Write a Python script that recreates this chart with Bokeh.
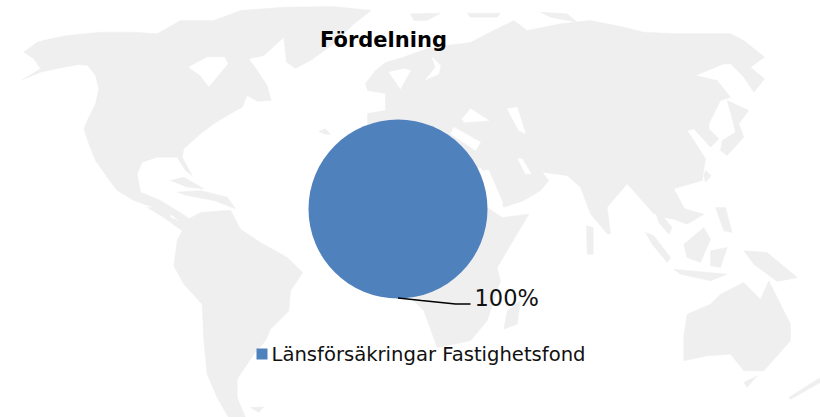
from bokeh.plotting import figure
from bokeh.embed import file_html
from bokeh.resources import INLINE
from bokeh.core.properties import value
from bokeh.models import Range1d
import math

# chart data
title_text = "Fördelning"
categories = ["Länsförsäkringar Fastighetsfond"]
shares = [100]
colors = ["#4f81bd"]
label_text = ["100%"]

MAP = "#efefef"

def tile(ox, oy, pts):
    return [(ox + x / 3, oy + y / 3) for x, y in pts]

land = [
    # North America
    tile(0, 0, [(65,238),(120,215),(190,200),(235,192),(262,195),(285,225),(295,265),(285,310),(265,350),(250,385),(265,430),(285,480),(320,530),(350,570),(400,600),(470,625),(500,632),(560,680),(580,690),(600,680),(545,640),(520,625),(480,600),(420,575),(410,520),(425,485),(470,470),(530,470),(555,510),(575,525),(545,470),(550,445),(600,400),(640,370),(680,345),(725,320),(740,285),(770,302),(812,300),(800,255),(770,210),(745,175),(790,165),(850,110),(800,55),(740,60),(640,60),(540,60),(470,100),(400,95),(300,95),(200,105),(150,115),(110,125),(70,155),(100,175),(120,205)]),
    # Arctic Canada and Greenland
    tile(0, 0, [(640,60),(720,30),(850,20),(1000,18),(1112,30),(1060,70),(1000,130),(930,180),(885,203),(858,185),(850,110),(800,60),(740,62)]),
    # Caribbean
    tile(0, 0, [(510,540),(550,530),(610,565),(560,560)]),
    tile(0, 0, [(530,575),(600,570),(680,590),(705,625),(640,600),(560,585)]),
    tile(0, 0, [(955,392),(975,385),(990,402),(970,400)]),
    # South America and Central America
    tile(0, 207, [(440,0),(510,0),(510,30),(545,45),(600,15),(690,8),(720,65),(780,105),(860,150),(907,195),(870,250),(865,310),(810,365),(795,400),(760,440),(710,515),(710,570),(735,630),(690,640),(650,570),(620,500),(610,400),(605,290),(550,230),(520,175),(530,100),(545,70),(490,30)]),
    tile(0, 207, [(750,600),(790,598),(775,615)]),
    # Iceland
    tile(0, 0, [(1150,190),(1180,180),(1195,195),(1165,205)]),
    # Eurasia
    [(400,150),(367,127),(367,113),(385,110),(385,93),(367,90),(365,83),(375,70),(385,62),(402,57),(430,47),(470,42),(487,33)] +
    tile(410, 0, [(310,60),(350,90),(450,70),(540,60),(640,80),(700,95),(800,100),(960,100),(1000,120),(1062,170),(1020,200),(1062,235),(1030,275),(1000,230),(960,190),(940,190),(855,225),(920,240),(960,290),(930,300),(895,370),(895,385),(925,415),(900,440),(850,385),(830,390),(850,420),(885,475),(875,540),(790,565),(830,640),(730,640),(650,550),(590,620),(600,700),(590,700),(540,640),(510,560),(470,525),(395,515),(415,540),(390,570),(340,600),(280,620),(240,540),(210,500),(150,500)]),
    # Japan
    tile(640, 100, [(260,0),(325,30),(295,70),(310,110),(260,165),(240,150),(245,120),(285,95),(270,35)]),
    tile(640, 100, [(195,210),(212,225),(195,245),(190,225)]),
    # Novaya Zemlya, Svalbard
    tile(410, 0, [(0,40),(90,38),(50,60),(10,60)]),
    tile(410, 0, [(170,38),(270,38),(260,50),(180,50)]),
    tile(410, 0, [(390,35),(470,40),(500,65),(420,50)]),
    # Southeast Asia
    tile(410, 207, [(730,0),(810,0),(880,20),(830,50),(790,35),(760,30),(785,60),(775,80),(745,45)]),
    tile(410, 207, [(705,75),(730,85),(780,150),(770,165),(725,110)]),
    tile(410, 207, [(790,185),(950,200),(900,220),(810,200)]),
    tile(410, 207, [(820,110),(880,60),(900,95),(870,165),(830,150)]),
    tile(410, 207, [(900,130),(950,120),(930,180),(900,175)]),
    tile(410, 207, [(1000,130),(1070,135),(1160,210),(1100,222),(1030,170)]),
    tile(410, 207, [(915,0),(945,0),(965,75),(940,70)]),
    tile(410, 207, [(528,55),(548,60),(548,140),(530,140)]),
    # Africa and Madagascar
    tile(410, 207, [(0,0),(230,0),(275,30),(355,20),(260,180),(270,220),(230,340),(180,400),(80,420),(40,310),(0,270)]),
    tile(410, 207, [(280,365),(290,310),(330,280),(320,350)]),
    # Australia, Tasmania, New Zealand
    tile(410, 207, [(820,385),(830,320),(900,290),(930,260),(1000,225),(1050,275),(1075,220),(1140,350),(1140,400),(1060,490),(1000,490),(960,440),(890,445),(820,460)]),
    tile(410, 207, [(1000,525),(1040,505),(1010,540)]),
    tile(410, 207, [(1135,570),(1230,510),(1230,525),(1140,575)]),
]
water = [
    tile(0, 0, [(565,200),(620,170),(672,170),(682,190),(625,258),(600,225)]),
    tile(350, 40, [(115,95),(160,85),(180,90),(150,145)]),
    tile(350, 40, [(225,118),(265,100),(270,75),(245,50),(255,80),(240,100)]),
    tile(410, 0, [(155,355),(180,325),(235,360),(160,365)]),
    tile(410, 0, [(290,325),(320,320),(345,400),(325,390)]),
    tile(410, 0, [(322,475),(335,475),(362,520),(345,520)]),
    tile(410, 0, [(220,510),(235,510),(278,610),(262,610)]),
    tile(410, 0, [(130,380),(210,425),(195,450),(120,400)]),
]

p = figure(width=820, height=417, output_backend="svg", toolbar_location=None,
           x_range=Range1d(0, 820), y_range=Range1d(417, 0),
           min_border=0, outline_line_color=None,
           background_fill_color="white", border_fill_color="white")
p.axis.visible = False
p.grid.visible = False

p.patches([[q[0] for q in s] for s in land], [[q[1] for q in s] for s in land],
          fill_color=MAP, line_color=MAP, line_width=0.5)
p.patches([[q[0] for q in s] for s in water], [[q[1] for q in s] for s in water],
          fill_color="white", line_color="white", line_width=0.5)

# pie drawn through the values
cx, cy, r = 397.5, 208.5, 89.5
total = sum(shares)
start = 0.0
for v, c in zip(shares, colors):
    if v >= total:
        p.circle(x=[cx], y=[cy], radius=r, fill_color=c, line_color=c, line_width=0)
    else:
        end = start + 2 * math.pi * v / total
        p.wedge(x=[cx], y=[cy], radius=r, start_angle=start, end_angle=end,
                fill_color=c, line_color=c)
        start = end

# leader line and label
p.line([397.5, 421, 455, 470], [297.5, 300, 303.5, 303.5], line_color="black", line_width=1.5)
p.text(x=[474], y=[297], text=label_text, text_font=value("DejaVu Sans"), text_font_size="22.5px",
       text_color="#111111", text_align="left", text_baseline="middle")

# title
p.text(x=[383], y=[39], text=[title_text], text_font=value("DejaVu Sans"), text_font_size="21px",
       text_font_style="bold", text_color="black", text_align="center", text_baseline="middle")

# legend
p.rect(x=[261.5], y=[353.5], width=11, height=11, fill_color=colors[0], line_color=None)
p.text(x=[271], y=[354], text=categories, text_font=value("DejaVu Sans"), text_font_size="19.6px",
       text_color="#111111", text_align="left", text_baseline="middle")

open("out.html", "w").write(file_html(p, INLINE))
